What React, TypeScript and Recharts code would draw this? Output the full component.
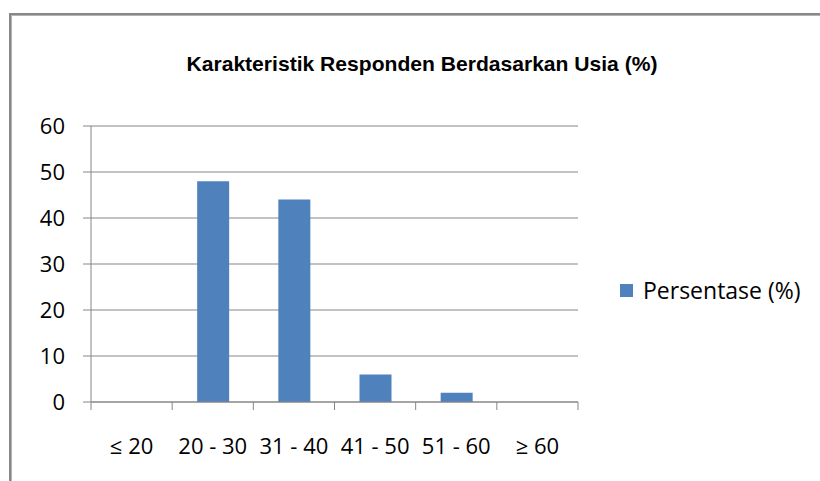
import { BarChart, Bar, XAxis, YAxis, CartesianGrid, Legend } from "recharts";

const ageGroups = ["≤ 20", "20 - 30", "31 - 40", "41 - 50", "51 - 60", "≥ 60"];
const percentages = [0, 48, 44, 6, 2, 0];
const yTicks = [0, 10, 20, 30, 40, 50, 60];
const seriesName = "Persentase (%)";
const title = "Karakteristik Responden Berdasarkan Usia (%)";

const data = ageGroups.map((group, i) => ({ group, value: percentages[i] }));

const BAR_COLOR = "#4F81BD";
const LINE_COLOR = "#868686";
const FONT = "'Open Sans', 'Noto Sans', sans-serif";
const FONT_SIZE = 22;
const X_TICK_SIZE = 8;
const X_TICK_MARGIN = 28;

// category ticks: label in the middle, tick marks on the band edges (Excel style)
function CategoryTick(props: any) {
  const { x, y, payload, index, visibleTicksCount } = props;
  const half = payload?.offset ?? 0;
  const axisY = y - X_TICK_SIZE - X_TICK_MARGIN;
  const last = index === (visibleTicksCount ?? ageGroups.length) - 1;
  return (
    <g>
      <line x1={x - half} x2={x - half} y1={axisY} y2={axisY + X_TICK_SIZE} stroke={LINE_COLOR} />
      {last && (
        <line x1={x + half} x2={x + half} y1={axisY} y2={axisY + X_TICK_SIZE} stroke={LINE_COLOR} />
      )}
      <text
        x={x}
        y={y}
        dy="0.71em"
        textAnchor="middle"
        fill="#000"
        fontSize={FONT_SIZE}
        fontFamily={FONT}
      >
        {payload.value}
      </text>
    </g>
  );
}

function renderLegend(props: any) {
  const { payload } = props;
  return (
    <div style={{ fontFamily: FONT, fontSize: 23, color: "#000" }}>
      {(payload || []).map((entry: any) => (
        <div key={entry.value} style={{ display: "flex", alignItems: "center" }}>
          <span
            style={{
              display: "inline-block",
              width: 13,
              height: 13,
              background: entry.color,
              marginRight: 10,
            }}
          />
          <span>{entry.value}</span>
        </div>
      ))}
    </div>
  );
}

export default function App() {
  return (
    <div
      style={{
        position: "absolute",
        left: 0,
        top: 0,
        width: 820,
        height: 481,
        overflow: "hidden",
        background: "#fff",
      }}
    >
      <div
        style={{
          position: "absolute",
          left: 9,
          top: 13,
          width: 900,
          height: 600,
          border: "2px solid #888",
          boxShadow: "inset 1px 1px 0 #b4b4b4",
        }}
      />
      <svg width={820} height={100} style={{ position: "absolute", left: 0, top: 0 }}>
        <text
          x={422}
          y={71}
          textAnchor="middle"
          fontFamily="'Liberation Sans', Arial, sans-serif"
          fontWeight="bold"
          fontSize={21}
          textLength={471}
          lengthAdjust="spacingAndGlyphs"
          fill="#000"
        >
          {title}
        </text>
      </svg>
      <div style={{ position: "absolute", left: 0, top: 0 }}>
        <BarChart
          width={820}
          height={481}
          data={data}
          margin={{ top: 126, right: 242, bottom: 0, left: 31 }}
        >
          <CartesianGrid vertical={false} stroke={LINE_COLOR} />
          <XAxis
            dataKey="group"
            height={79}
            axisLine={{ stroke: LINE_COLOR }}
            tickLine={false}
            tickSize={X_TICK_SIZE}
            tickMargin={X_TICK_MARGIN}
            interval={0}
            tick={<CategoryTick />}
          />
          <YAxis
            domain={[0, 60]}
            ticks={yTicks}
            width={60}
            tickSize={8}
            tickMargin={18}
            axisLine={{ stroke: LINE_COLOR }}
            tickLine={{ stroke: LINE_COLOR }}
            tick={{ fill: "#000", fontSize: FONT_SIZE, fontFamily: FONT }}
          />
          <Legend
            layout="vertical"
            align="center"
            verticalAlign="middle"
            content={renderLegend}
            wrapperStyle={{ position: "absolute", left: 620, top: 274, width: 200 }}
          />
          <Bar
            dataKey="value"
            name={seriesName}
            fill={BAR_COLOR}
            barSize={32}
            isAnimationActive={false}
          />
        </BarChart>
      </div>
    </div>
  );
}
